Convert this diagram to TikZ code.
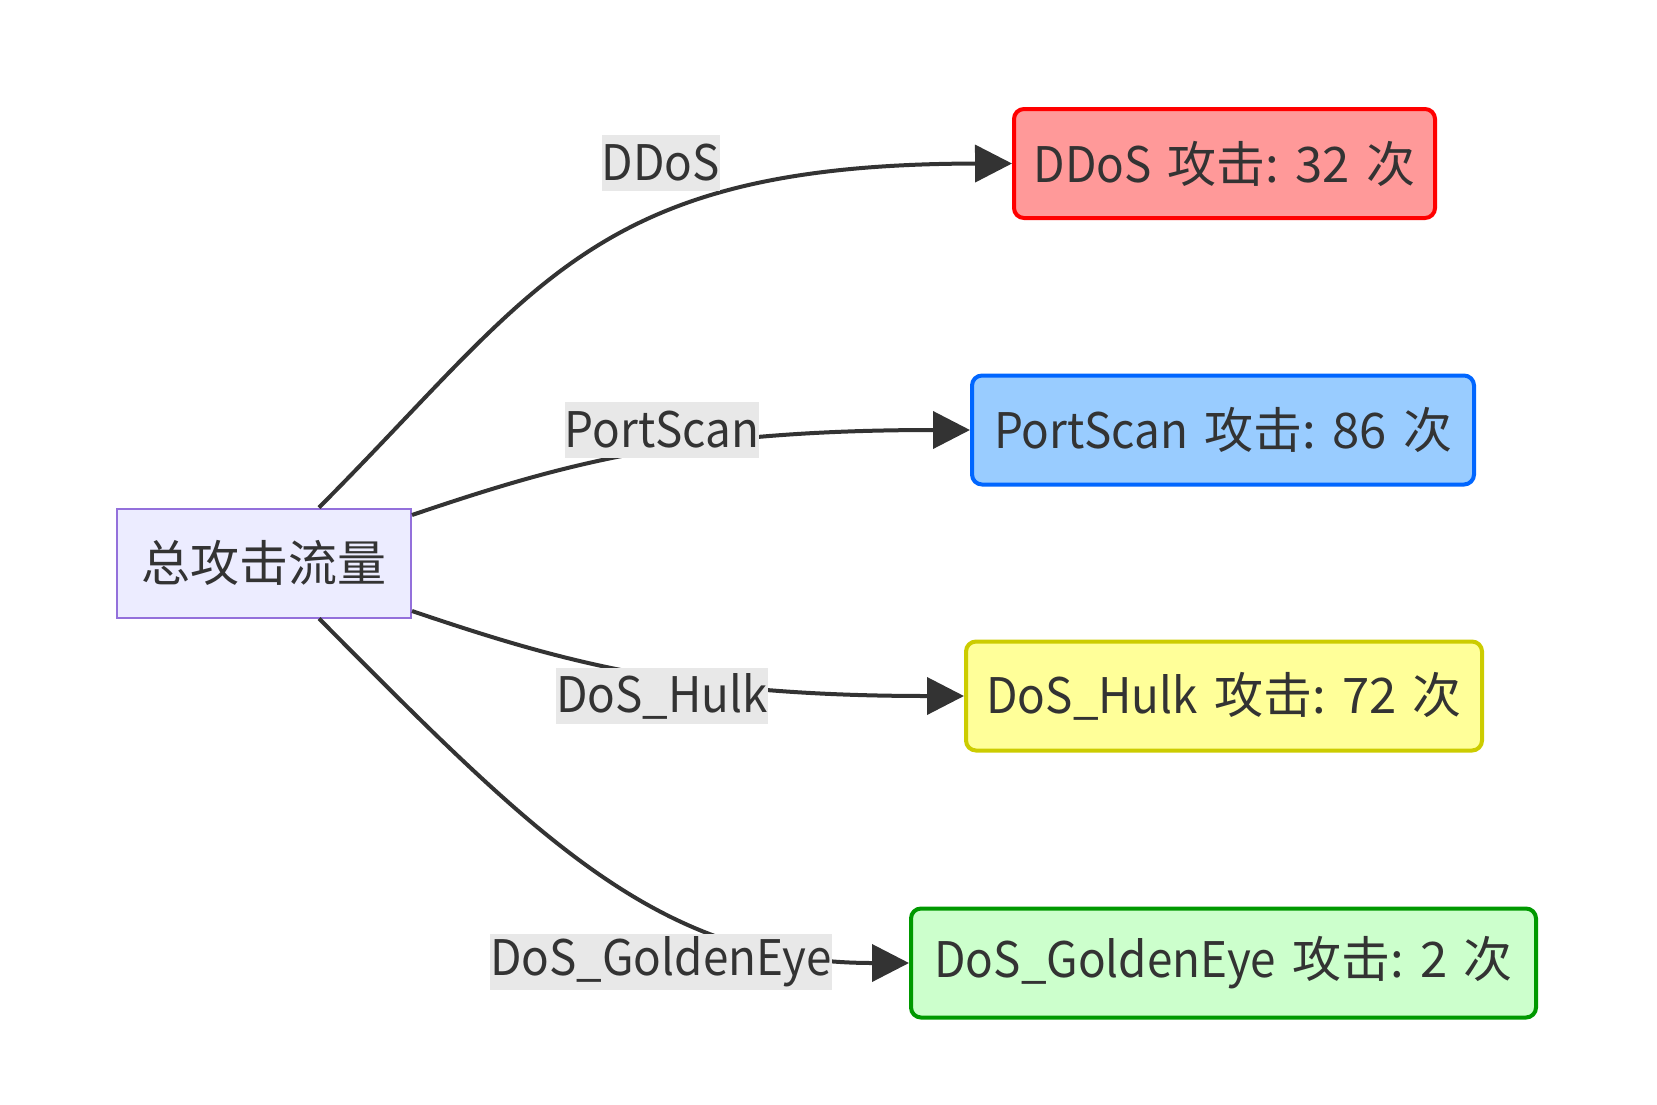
\documentclass[tikz,border=0pt]{standalone}
\usepackage{fontspec}
\setmainfont{Noto Sans CJK SC}
\newfontfamily\lat[FakeStretch=0.935]{Noto Sans CJK SC}
\usetikzlibrary{arrows.meta}
\definecolor{txt}{HTML}{333333}
\definecolor{lbl}{HTML}{E8E8E8}
\definecolor{srcfill}{HTML}{ECECFF}
\definecolor{srcst}{HTML}{9370DB}
\definecolor{ddosfill}{HTML}{FF9999}
\definecolor{ddosst}{HTML}{FF0000}
\definecolor{psfill}{HTML}{99CCFF}
\definecolor{psst}{HTML}{0066FF}
\definecolor{hulkfill}{HTML}{FFFF99}
\definecolor{hulkst}{HTML}{CCCC00}
\definecolor{gefill}{HTML}{CCFFCC}
\definecolor{gest}{HTML}{009900}
\newcommand{\gap}{\hspace{0.33em}}
\begin{document}
\begin{tikzpicture}[x=1pt,y=-1pt,
  font=\fontsize{49}{58}\selectfont, text=txt,
  box/.style={line width=4pt, rounded corners=10pt, minimum height=109pt, inner sep=0pt, text=txt},
  elabel/.style={fill=lbl, inner sep=0pt, minimum height=56pt, text=txt, font=\fontsize{49}{58}\selectfont\lat},
  link/.style={draw=txt, line width=4pt, -{Triangle[length=37pt,width=37pt]}}]
\useasboundingbox (0,0) rectangle (1657,1104);
\node[draw=srcst, fill=srcfill, line width=2pt, minimum width=294pt, minimum height=109pt, inner sep=0pt] (src) at (264,563) {总攻击流量};
\node[box, draw=ddosst, fill=ddosfill, minimum width=421pt] (ddos) at (1224.5,163.5) {{\lat DDoS}\gap 攻击:\gap 32\gap 次};
\node[box, draw=psst, fill=psfill, minimum width=502pt] (ps) at (1223,430) {{\lat PortScan}\gap 攻击:\gap 86\gap 次};
\node[box, draw=hulkst, fill=hulkfill, minimum width=516pt] (hulk) at (1224,696) {{\lat DoS\_Hulk}\gap 攻击:\gap 72\gap 次};
\node[box, draw=gest, fill=gefill, minimum width=625pt] (ge) at (1223.5,963) {{\lat DoS\_GoldenEye}\gap 攻击:\gap 2\gap 次};
\draw[link] ([xshift=55pt]src.north) .. controls (539,287) and (592,164) .. (ddos.west);
\draw[link] ([yshift=48pt]src.east) .. controls (560,465) and (680,430) .. (ps.west);
\draw[link] ([yshift=-48pt]src.east) .. controls (560,661) and (680,696) .. (hulk.west);
\draw[link] ([xshift=55pt]src.south) .. controls (539,840) and (659,963) .. (ge.west);
\node[elabel] (l1) at (661,163) {DDoS};
\node[elabel] (l2) at (662,430) {PortScan};
\node[elabel] (l3) at (662,696) {DoS\_Hulk};
\node[elabel] (l4) at (661,962) {DoS\_GoldenEye};
\end{tikzpicture}
\end{document}
